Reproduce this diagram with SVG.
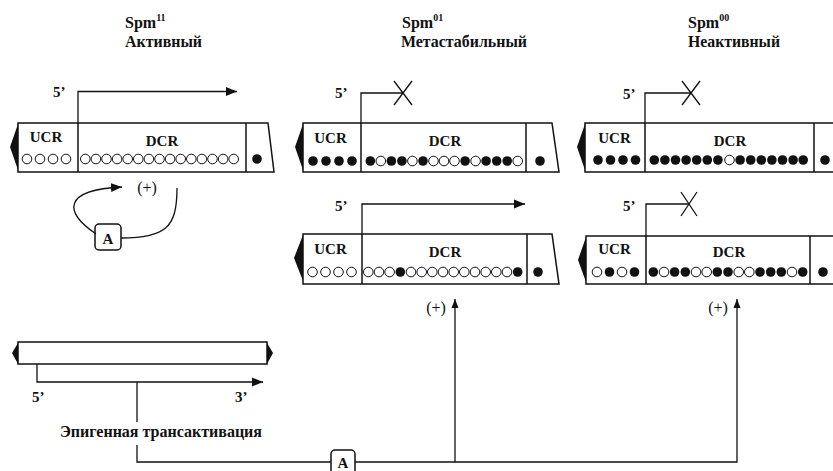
<svg xmlns="http://www.w3.org/2000/svg" width="833" height="471" viewBox="0 0 833 471">
<style>
text{font-family:"Liberation Serif","Times New Roman",serif;fill:#111}
.t{font-size:16px;font-weight:bold}
.lab{font-size:15px;font-weight:bold}
.p{font-size:16px}
.box{fill:#fff;stroke:#111;stroke-width:1.5}
.div{stroke:#111;stroke-width:1.5}
.wedge{fill:#111}
.o{fill:#fff;stroke:#111;stroke-width:1}
.f{fill:#111}
.ln{fill:none;stroke:#111;stroke-width:1.3}
.abox{fill:#fff;stroke:#111;stroke-width:1.5}
</style>
<defs>
<marker id="ah" markerUnits="userSpaceOnUse" markerWidth="12" markerHeight="10" refX="11" refY="5" orient="auto">
<path d="M0,0.5 L11,5 L0,9.5 z" fill="#111"/>
</marker>
<marker id="ahs" markerUnits="userSpaceOnUse" markerWidth="10" markerHeight="8" refX="9" refY="4" orient="auto">
<path d="M0,0.5 L9,4 L0,7.5 z" fill="#111"/>
</marker>
</defs>

<!-- titles -->
<g id="titles">
<text class="t" x="125" y="28">Spm<tspan font-size="10" dy="-7">11</tspan></text>
<text class="t" x="125" y="47" textLength="77" lengthAdjust="spacingAndGlyphs">Активный</text>
<text class="t" x="402" y="28">Spm<tspan font-size="10" dy="-7">01</tspan></text>
<text class="t" x="401" y="47" textLength="126" lengthAdjust="spacingAndGlyphs">Метастабильный</text>
<text class="t" x="688" y="28">Spm<tspan font-size="10" dy="-7">00</tspan></text>
<text class="t" x="688" y="47" textLength="92" lengthAdjust="spacingAndGlyphs">Неактивный</text>
</g>

<!-- Spm11 active element -->
<g id="spm11">
<polygon class="wedge" points="18,124 10,147 18,170"/>
<path class="box" d="M18,123 H268 L274,172 H18 Z"/>
<line class="div" x1="78" y1="123" x2="78" y2="172"/>
<line class="div" x1="246" y1="123" x2="246" y2="172"/>
<text class="lab" x="46" y="142" text-anchor="middle">UCR</text>
<text class="lab" x="162" y="146" text-anchor="middle">DCR</text>
<g>
<circle class="o" cx="27" cy="159" r="4.8"/><circle class="o" cx="40" cy="159" r="4.8"/><circle class="o" cx="53" cy="159" r="4.8"/><circle class="o" cx="66" cy="159" r="4.8"/>
<circle class="o" cx="85.3" cy="159" r="4.8"/><circle class="o" cx="95.9" cy="159" r="4.8"/><circle class="o" cx="106.5" cy="159" r="4.8"/><circle class="o" cx="117.1" cy="159" r="4.8"/><circle class="o" cx="127.7" cy="159" r="4.8"/><circle class="o" cx="138.3" cy="159" r="4.8"/><circle class="o" cx="148.9" cy="159" r="4.8"/><circle class="o" cx="159.5" cy="159" r="4.8"/><circle class="o" cx="170.1" cy="159" r="4.8"/><circle class="o" cx="180.7" cy="159" r="4.8"/><circle class="o" cx="191.3" cy="159" r="4.8"/><circle class="o" cx="201.9" cy="159" r="4.8"/><circle class="o" cx="212.5" cy="159" r="4.8"/><circle class="o" cx="223.1" cy="159" r="4.8"/><circle class="o" cx="233.7" cy="159" r="4.8"/>
<circle class="f" cx="257" cy="159" r="4.8"/>
</g>
<text class="lab" x="53" y="97">5’</text>
</g>

<!-- Spm01 top -->
<g id="spm01-a">
<polygon class="wedge" points="303,124 295,147 303,170"/>
<path class="box" d="M303,123 H552 L559,172 H303 Z"/>
<line class="div" x1="361" y1="123" x2="361" y2="172"/>
<line class="div" x1="526" y1="123" x2="526" y2="172"/>
<text class="lab" x="330.5" y="143" text-anchor="middle">UCR</text>
<text class="lab" x="445" y="146" text-anchor="middle">DCR</text>
<g>
<circle class="f" cx="313" cy="161" r="4.8"/><circle class="f" cx="326" cy="161" r="4.8"/><circle class="f" cx="339" cy="161" r="4.8"/><circle class="f" cx="352" cy="161" r="4.8"/>
<circle class="f" cx="370.3" cy="161" r="4.8"/><circle class="o" cx="380.8" cy="161" r="4.8"/><circle class="f" cx="391.4" cy="161" r="4.8"/><circle class="f" cx="401.9" cy="161" r="4.8"/><circle class="o" cx="412.4" cy="161" r="4.8"/><circle class="f" cx="423" cy="161" r="4.8"/><circle class="o" cx="433.5" cy="161" r="4.8"/><circle class="o" cx="444" cy="161" r="4.8"/><circle class="o" cx="454.5" cy="161" r="4.8"/><circle class="f" cx="465.1" cy="161" r="4.8"/><circle class="o" cx="475.6" cy="161" r="4.8"/><circle class="f" cx="486.1" cy="161" r="4.8"/><circle class="f" cx="496.7" cy="161" r="4.8"/><circle class="f" cx="507.2" cy="161" r="4.8"/><circle class="o" cx="517.7" cy="161" r="4.8"/>
<circle class="f" cx="540" cy="161" r="4.8"/>
</g>
<text class="lab" x="335" y="98">5’</text>
</g>

<!-- Spm01 bottom -->
<g id="spm01-b">
<polygon class="wedge" points="303,235 294,258 303,281"/>
<path class="box" d="M303,234 H552 L559,284 H303 Z"/>
<line class="div" x1="362" y1="234" x2="362" y2="284"/>
<line class="div" x1="527" y1="234" x2="527" y2="284"/>
<text class="lab" x="330.5" y="254" text-anchor="middle">UCR</text>
<text class="lab" x="445" y="257" text-anchor="middle">DCR</text>
<g>
<circle class="o" cx="312.5" cy="272" r="4.8"/><circle class="o" cx="325.5" cy="272" r="4.8"/><circle class="o" cx="338.5" cy="272" r="4.8"/><circle class="o" cx="351.5" cy="272" r="4.8"/>
<circle class="o" cx="368.3" cy="272" r="4.8"/><circle class="o" cx="379" cy="272" r="4.8"/><circle class="o" cx="389.6" cy="272" r="4.8"/><circle class="f" cx="400.3" cy="272" r="4.8"/><circle class="o" cx="411" cy="272" r="4.8"/><circle class="o" cx="421.7" cy="272" r="4.8"/><circle class="o" cx="432.3" cy="272" r="4.8"/><circle class="o" cx="443" cy="272" r="4.8"/><circle class="o" cx="453.7" cy="272" r="4.8"/><circle class="o" cx="464.3" cy="272" r="4.8"/><circle class="o" cx="475" cy="272" r="4.8"/><circle class="o" cx="485.7" cy="272" r="4.8"/><circle class="o" cx="496.3" cy="272" r="4.8"/><circle class="o" cx="507" cy="272" r="4.8"/><circle class="f" cx="517.7" cy="272" r="4.8"/>
<circle class="f" cx="538" cy="272" r="4.8"/>
</g>
<text class="lab" x="335" y="211">5’</text>
</g>

<!-- Spm00 top -->
<g id="spm00-a">
<polygon class="wedge" points="585,124 577,147 585,170"/>
<path class="box" d="M585,123 H850 V172 H585 Z"/>
<line class="div" x1="645" y1="123" x2="645" y2="172"/>
<line class="div" x1="814" y1="123" x2="814" y2="172"/>
<text class="lab" x="614.5" y="143" text-anchor="middle">UCR</text>
<text class="lab" x="730" y="146" text-anchor="middle">DCR</text>
<g>
<circle class="f" cx="598" cy="160" r="4.8"/><circle class="f" cx="610.5" cy="160" r="4.8"/><circle class="f" cx="623" cy="160" r="4.8"/><circle class="f" cx="635.5" cy="160" r="4.8"/>
<circle class="f" cx="654.3" cy="160" r="4.8"/><circle class="f" cx="664.9" cy="160" r="4.8"/><circle class="f" cx="675.5" cy="160" r="4.8"/><circle class="f" cx="686.1" cy="160" r="4.8"/><circle class="f" cx="696.7" cy="160" r="4.8"/><circle class="f" cx="707.3" cy="160" r="4.8"/><circle class="f" cx="717.9" cy="160" r="4.8"/><circle class="o" cx="729.5" cy="160" r="4.8"/><circle class="f" cx="740.1" cy="160" r="4.8"/><circle class="f" cx="750.7" cy="160" r="4.8"/><circle class="f" cx="761.3" cy="160" r="4.8"/><circle class="f" cx="771.9" cy="160" r="4.8"/><circle class="f" cx="782.5" cy="160" r="4.8"/><circle class="f" cx="793.1" cy="160" r="4.8"/><circle class="f" cx="803.2" cy="160" r="4.8"/>
<circle class="f" cx="825" cy="160" r="4.8"/>
</g>
<text class="lab" x="623" y="99">5’</text>
</g>

<!-- Spm00 bottom -->
<g id="spm00-b">
<polygon class="wedge" points="586,237 578,260 586,282"/>
<path class="box" d="M586,236 H850 V284 H586 Z"/>
<line class="div" x1="646" y1="236" x2="646" y2="284"/>
<line class="div" x1="810" y1="236" x2="810" y2="284"/>
<text class="lab" x="614.5" y="254" text-anchor="middle">UCR</text>
<text class="lab" x="729" y="257" text-anchor="middle">DCR</text>
<g>
<circle class="o" cx="597" cy="272" r="4.8"/><circle class="f" cx="609.5" cy="272" r="4.8"/><circle class="o" cx="622" cy="272" r="4.8"/><circle class="f" cx="634.5" cy="272" r="4.8"/>
<circle class="f" cx="653.3" cy="272" r="4.8"/><circle class="o" cx="664" cy="272" r="4.8"/><circle class="f" cx="674.6" cy="272" r="4.8"/><circle class="f" cx="685.3" cy="272" r="4.8"/><circle class="o" cx="696" cy="272" r="4.8"/><circle class="o" cx="706.7" cy="272" r="4.8"/><circle class="f" cx="717.3" cy="272" r="4.8"/><circle class="f" cx="728" cy="272" r="4.8"/><circle class="o" cx="738.7" cy="272" r="4.8"/><circle class="o" cx="749.3" cy="272" r="4.8"/><circle class="f" cx="760" cy="272" r="4.8"/><circle class="f" cx="770.7" cy="272" r="4.8"/><circle class="f" cx="781.3" cy="272" r="4.8"/><circle class="o" cx="792" cy="272" r="4.8"/><circle class="f" cx="802.7" cy="272" r="4.8"/>
<circle class="f" cx="823" cy="272" r="4.8"/>
</g>
<text class="lab" x="623" y="211">5’</text>
</g>

<!-- source element -->
<g id="source">
<polygon class="wedge" points="18,343 12,353 18,364"/>
<polygon class="wedge" points="267,343 273,353 267,364"/>
<rect class="box" x="18" y="342" width="249" height="22"/>
<text class="lab" x="32" y="402">5’</text>
<text class="lab" x="235" y="402">3’</text>
<text class="t" x="60" y="437" textLength="202" lengthAdjust="spacingAndGlyphs">Эпигенная трансактивация</text>
</g>

<!-- activator boxes -->
<g id="A-top">
<rect class="abox" x="95" y="224" width="26" height="26" rx="4"/>
<text class="lab" x="108" y="244" text-anchor="middle">A</text>
</g>
<g id="A-bottom">
<rect class="abox" x="331" y="450" width="24" height="28" rx="4"/>
<text class="lab" x="343" y="468" text-anchor="middle">A</text>
</g>

<!-- (+) labels -->
<g id="plus-labels">
<text class="p" x="147" y="193" text-anchor="middle">(+)</text>
<text class="p" x="436" y="313" text-anchor="middle">(+)</text>
<text class="p" x="718" y="313" text-anchor="middle">(+)</text>
</g>

<!-- connectors -->
<g id="connectors">
<path class="ln" d="M78,123 V91.5 H237" marker-end="url(#ah)"/>
<path class="ln" d="M361,123 V93 H403"/>
<path class="ln" d="M394,81 L412,105 M394,105 L412,81"/>
<path class="ln" d="M645,123 V93 H691"/>
<path class="ln" d="M682,81 L700,105 M682,105 L700,81"/>
<path class="ln" d="M362,234 V204 H525" marker-end="url(#ah)"/>
<path class="ln" d="M646,236 V204 H689"/>
<path class="ln" d="M681,192 L697,216 M681,216 L697,192"/>
<path class="ln" d="M96,234 C64,212 62,190 122,187" marker-end="url(#ah)"/>
<path class="ln" d="M121,238 C165,237 177,229 177,188"/>
<path class="ln" d="M37,364 V382 H263" marker-end="url(#ah)"/>
<path class="ln" d="M137,382 V422"/>
<path class="ln" d="M137,445 V462 H331"/>
<path class="ln" d="M355,462 H737 V299" marker-end="url(#ahs)"/>
<path class="ln" d="M455,462 V299" marker-end="url(#ahs)"/>
</g>
</svg>
